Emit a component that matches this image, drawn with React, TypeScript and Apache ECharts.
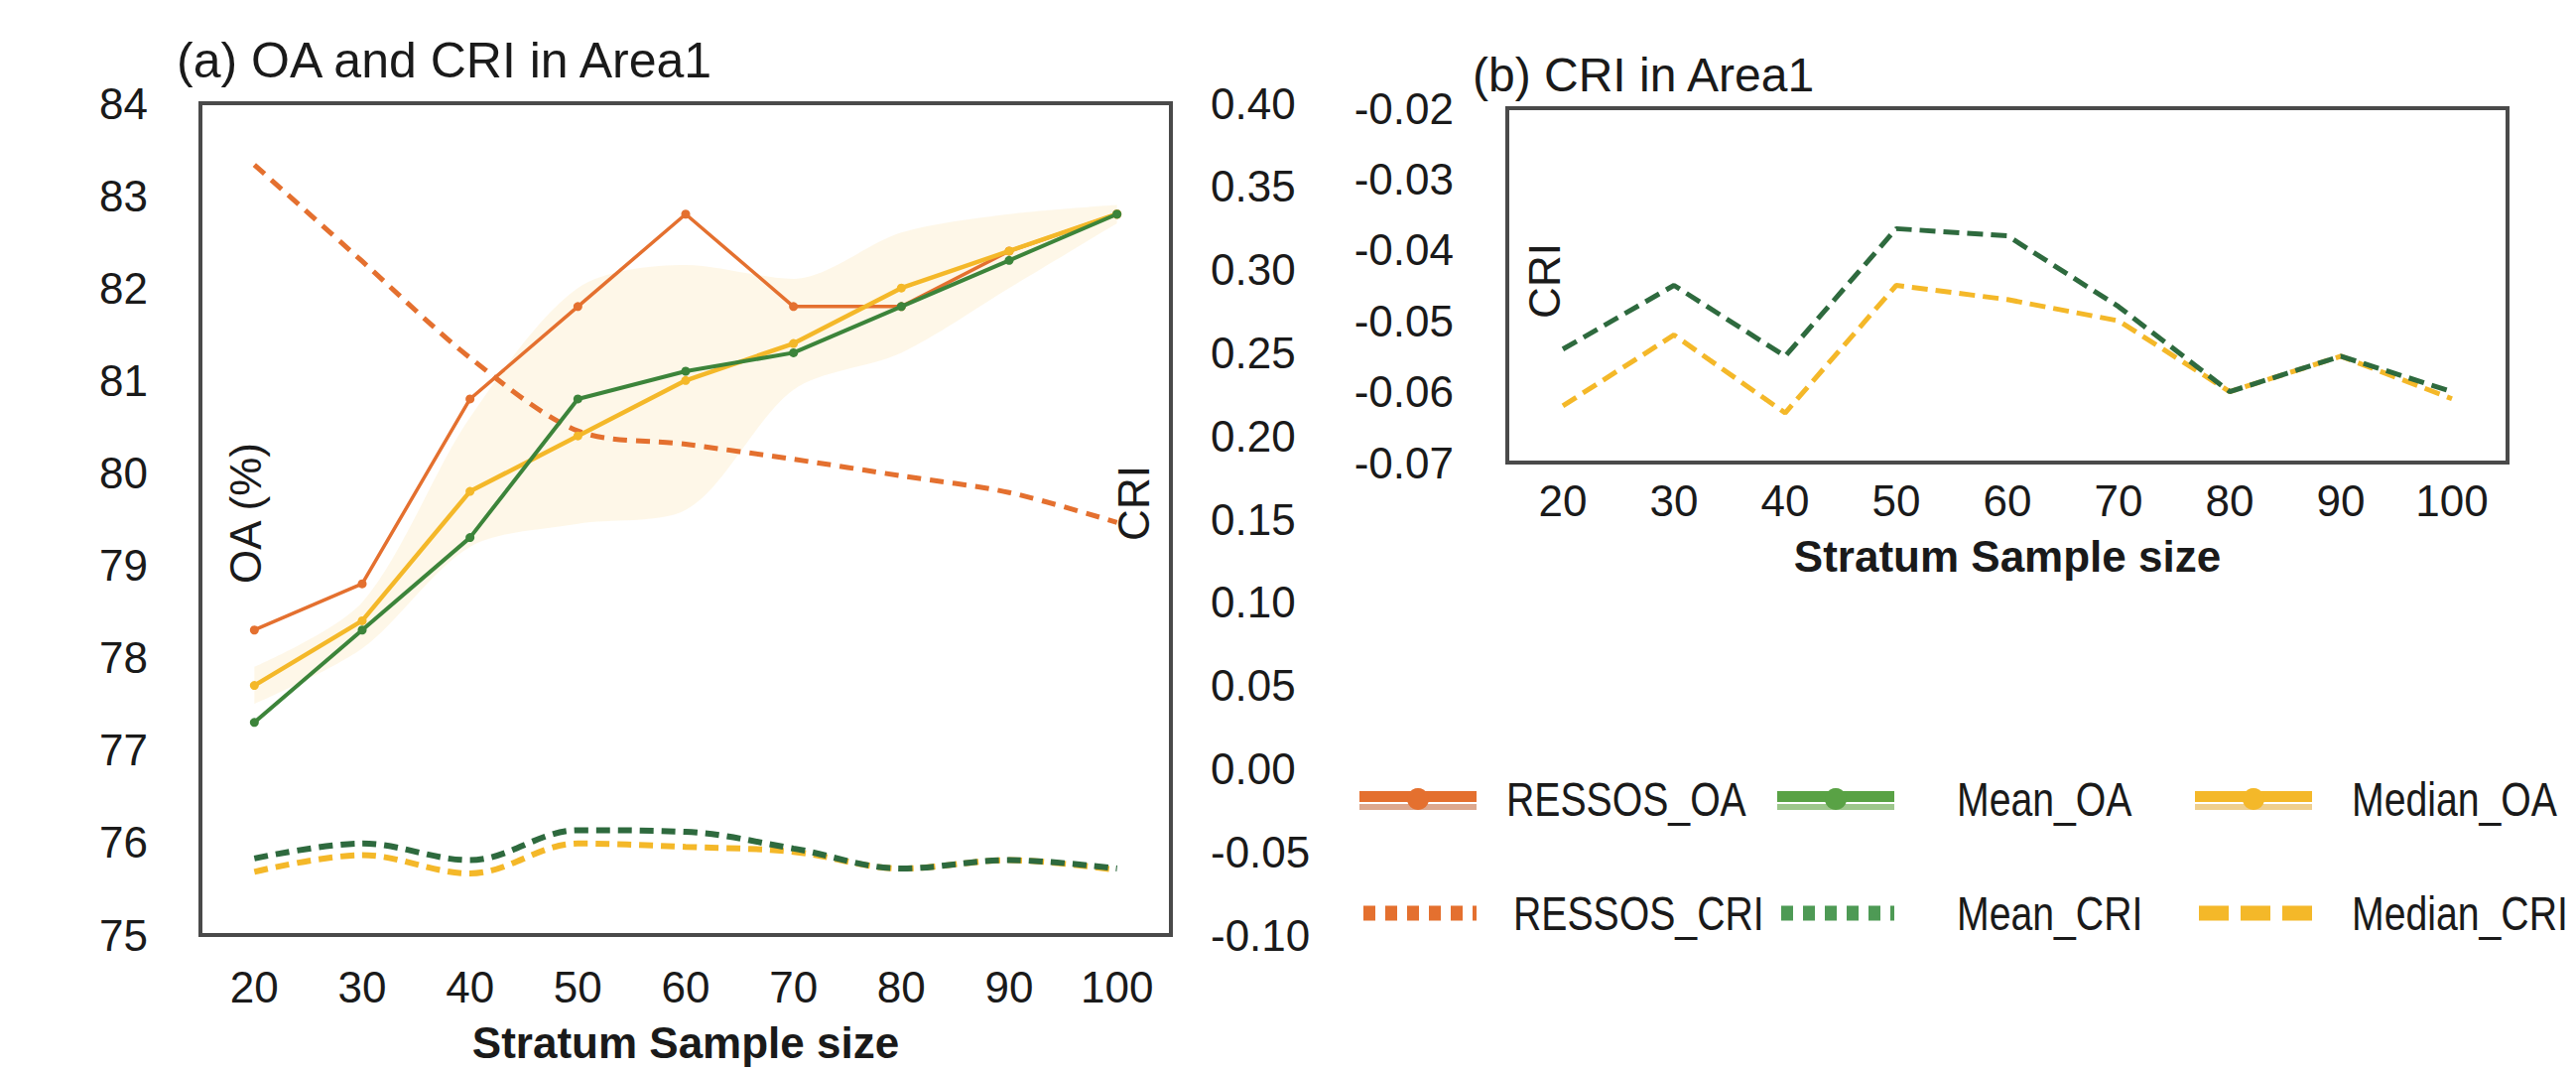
import React, { useEffect, useRef } from "react";
import * as echarts from "echarts";

// ---------- data ----------
const sampleSizes = ["20", "30", "40", "50", "60", "70", "80", "90", "100"];

const ressosOA = [78.3, 78.8, 80.8, 81.8, 82.8, 81.8, 81.8, 82.4, 82.8];
const meanOA = [77.3, 78.3, 79.3, 80.8, 81.1, 81.3, 81.8, 82.3, 82.8];
const medianOA = [77.7, 78.4, 79.8, 80.4, 81.0, 81.4, 82.0, 82.4, 82.8];

// light range band around the OA curves
const bandLower = [77.5, 78.1, 79.2, 79.45, 79.6, 80.9, 81.3, 82.0, 82.7];
const bandUpper = [77.9, 78.6, 80.6, 82.0, 82.25, 82.1, 82.6, 82.8, 82.9];

const ressosCRI = [0.363, 0.305, 0.247, 0.203, 0.195, 0.186, 0.176, 0.166, 0.148];
const meanCRI = [-0.054, -0.045, -0.055, -0.037, -0.038, -0.048, -0.06, -0.055, -0.06];
const medianCRI = [-0.062, -0.052, -0.063, -0.045, -0.047, -0.05, -0.06, -0.055, -0.061];

const oaMin = 75;
const oaMax = 84;
const oaStep = 1;
const criAMin = -0.1;
const criAMax = 0.4;
const criAStep = 0.05;
const criBMin = -0.07;
const criBMax = -0.02;
const criBStep = 0.01;

const titleA = "(a) OA and CRI in Area1";
const titleB = "(b) CRI in Area1";
const xName = "Stratum Sample size";
const legendLabels = ["RESSOS_OA", "Mean_OA", "Median_OA", "RESSOS_CRI", "Mean_CRI", "Median_CRI"];

// ---------- styles ----------
const FONT = "'Liberation Sans', Arial, Helvetica, sans-serif";
const ORANGE = "#E4702F";
const ORANGE_PALE = "#DDA88E";
const GREEN = "#3C843A";
const GREEN_LEG = "#59A245";
const GREEN_PALE = "#9DC78C";
const GREEN_DARK = "#2E6A3E";
const YELLOW = "#F4B829";
const YELLOW_PALE = "#EFCF8E";
const BORDER = "#4a4a4a";
const TEXT = "#1a1a1a";

const fmt2 = (v: number) => (Math.abs(v) < 1e-9 ? "0.00" : v.toFixed(2));

function buildOption() {
  const bandDiff = bandUpper.map((u, i) => +(u - bandLower[i]).toFixed(3));

  const oaLine = (name: string, data: number[], color: string, width: number, z: number) => ({
    name,
    type: "line",
    xAxisIndex: 0,
    yAxisIndex: 0,
    data,
    symbol: "circle",
    symbolSize: 9,
    z,
    lineStyle: { color, width },
    itemStyle: { color },
  });

  const criLine = (
    name: string,
    data: number[],
    color: string,
    width: number,
    dash: number[],
    xi: number,
    yi: number,
    smooth: number | boolean,
    z: number
  ) => ({
    name,
    type: "line",
    xAxisIndex: xi,
    yAxisIndex: yi,
    data,
    symbol: "none",
    smooth,
    z,
    lineStyle: { color, width, type: dash },
  });

  // legend graphics
  const legendCols = [1370, 1791, 2212];
  const legendText = [1518, 1972, 2370];
  const rowY = [805, 920];
  const oaColors = [
    [ORANGE, ORANGE_PALE],
    [GREEN_LEG, GREEN_PALE],
    [YELLOW, YELLOW_PALE],
  ];
  const criColors = [ORANGE, "#4E9A55", YELLOW];
  const iconW = 118;
  const graphics: any[] = [];
  const legendTextStyle = (text: string) => ({
    text,
    fontSize: 49,
    fontFamily: FONT,
    fill: TEXT,
    align: "left",
    verticalAlign: "middle",
    textAlign: "left",
    textVerticalAlign: "middle",
  });
  for (let i = 0; i < 3; i++) {
    const x0 = legendCols[i];
    const y = rowY[0];
    graphics.push({
      type: "rect",
      shape: { x: x0, y: y - 8, width: iconW, height: 11 },
      style: { fill: oaColors[i][0] },
    });
    graphics.push({
      type: "rect",
      shape: { x: x0, y: y + 5, width: iconW, height: 6 },
      style: { fill: oaColors[i][1] },
    });
    graphics.push({
      type: "circle",
      shape: { cx: x0 + iconW / 2, cy: y, r: 11 },
      style: { fill: oaColors[i][0] },
    });
    graphics.push({
      type: "text",
      x: legendText[i],
      y,
      scaleX: 0.8,
      style: legendTextStyle(legendLabels[i]),
    });
    const y2 = rowY[1];
    const isMedian = i === 2;
    graphics.push({
      type: "line",
      shape: { x1: x0 + 4, y1: y2, x2: x0 + iconW, y2: y2 },
      style: {
        stroke: criColors[i],
        lineWidth: 15,
        lineDash: isMedian ? [30, 12] : [12, 10],
      },
    });
    graphics.push({
      type: "text",
      x: i === 0 ? legendText[i] + 7 : legendText[i],
      y: y2,
      scaleX: 0.8,
      style: legendTextStyle(legendLabels[i + 3]),
    });
  }

  const vText = (text: string, x: number, y: number) => ({
    type: "text",
    x,
    y,
    rotation: Math.PI / 2,
    z: 50,
    style: {
      text,
      fontSize: 44,
      fontFamily: FONT,
      fill: TEXT,
      align: "center",
      verticalAlign: "middle",
      textAlign: "center",
      textVerticalAlign: "middle",
    },
  });
  graphics.push(vText("OA (%)", 247, 517));
  graphics.push(vText("CRI", 1142, 507));
  graphics.push(vText("CRI", 1556, 283));

  const axisLabel = { fontSize: 44, fontFamily: FONT, color: TEXT };

  return {
    animation: false,
    backgroundColor: "#ffffff",
    textStyle: { fontFamily: FONT },
    title: [
      {
        text: titleA,
        left: 178,
        top: 36,
        padding: 0,
        textStyle: { fontSize: 50, fontWeight: "normal", fontFamily: FONT, color: TEXT },
      },
      {
        text: titleB,
        left: 1484,
        top: 51,
        padding: 0,
        textStyle: { fontSize: 48, fontWeight: "normal", fontFamily: FONT, color: TEXT },
      },
    ],
    grid: [
      {
        left: 202,
        top: 104,
        width: 978,
        height: 838,
        show: true,
        borderColor: BORDER,
        borderWidth: 4,
        containLabel: false,
      },
      {
        left: 1519,
        top: 109,
        width: 1008,
        height: 357,
        show: true,
        borderColor: BORDER,
        borderWidth: 4,
        containLabel: false,
      },
    ],
    xAxis: [
      {
        type: "category",
        gridIndex: 0,
        data: sampleSizes,
        boundaryGap: true,
        axisLine: { show: false },
        axisTick: { show: false },
        axisLabel: { ...axisLabel, margin: 30 },
        name: xName,
        nameLocation: "middle",
        nameGap: 86,
        nameTextStyle: { fontSize: 44, fontWeight: "bold", fontFamily: FONT, color: TEXT },
      },
      {
        type: "category",
        gridIndex: 1,
        data: sampleSizes,
        boundaryGap: true,
        axisLine: { show: false },
        axisTick: { show: false },
        axisLabel: { ...axisLabel, margin: 16 },
        name: xName,
        nameLocation: "middle",
        nameGap: 72,
        nameTextStyle: { fontSize: 44, fontWeight: "bold", fontFamily: FONT, color: TEXT },
      },
    ],
    yAxis: [
      {
        type: "value",
        gridIndex: 0,
        position: "left",
        min: oaMin,
        max: oaMax,
        interval: oaStep,
        axisLine: { show: false },
        axisTick: { show: false },
        splitLine: { show: false },
        axisLabel: { ...axisLabel, margin: 53 },
      },
      {
        type: "value",
        gridIndex: 0,
        position: "right",
        min: criAMin,
        max: criAMax,
        interval: criAStep,
        axisLine: { show: false },
        axisTick: { show: false },
        splitLine: { show: false },
        axisLabel: { ...axisLabel, margin: 40, formatter: fmt2 },
      },
      {
        type: "value",
        gridIndex: 1,
        position: "left",
        min: criBMin,
        max: criBMax,
        interval: criBStep,
        axisLine: { show: false },
        axisTick: { show: false },
        splitLine: { show: false },
        axisLabel: { ...axisLabel, margin: 54, formatter: fmt2 },
      },
    ],
    series: [
      {
        name: "band_low",
        type: "line",
        xAxisIndex: 0,
        yAxisIndex: 0,
        data: bandLower,
        stack: "band",
        symbol: "none",
        smooth: 0.3,
        lineStyle: { opacity: 0 },
        z: 1,
      },
      {
        name: "band",
        type: "line",
        xAxisIndex: 0,
        yAxisIndex: 0,
        data: bandDiff,
        stack: "band",
        symbol: "none",
        smooth: 0.3,
        lineStyle: { opacity: 0 },
        areaStyle: { color: "rgba(248, 208, 130, 0.26)" },
        z: 1,
      },
      criLine("RESSOS_CRI", ressosCRI, ORANGE, 5, [14, 9], 0, 1, 0.3, 3),
      oaLine("RESSOS_OA", ressosOA, ORANGE, 3.5, 4),
      oaLine("Median_OA", medianOA, YELLOW, 4.5, 5),
      oaLine("Mean_OA", meanOA, GREEN, 4, 6),
      criLine("Median_CRI", medianCRI, YELLOW, 6, [14, 8], 0, 1, 0.35, 7),
      criLine("Mean_CRI", meanCRI, GREEN_DARK, 6, [14, 8], 0, 1, 0.35, 8),
      criLine("Median_CRI_b", medianCRI, YELLOW, 5, [16, 8], 1, 2, false, 7),
      criLine("Mean_CRI_b", meanCRI, GREEN_DARK, 5, [16, 8], 1, 2, false, 8),
    ],
    graphic: graphics,
  };
}

export default function App() {
  const ref = useRef<HTMLDivElement>(null);
  useEffect(() => {
    document.body.style.margin = "0";
    if (!ref.current) return;
    const chart = echarts.init(ref.current, null, { renderer: "svg" });
    chart.setOption(buildOption() as any);
    return () => chart.dispose();
  }, []);
  return <div ref={ref} style={{ width: 2596, height: 1078 }} />;
}
